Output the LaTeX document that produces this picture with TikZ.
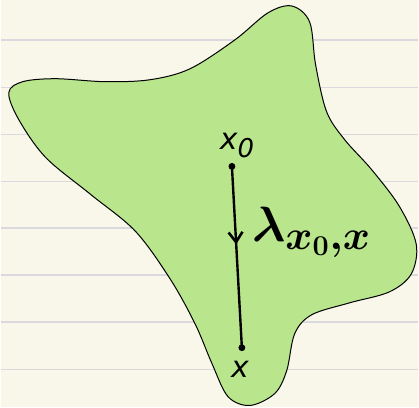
\documentclass[tikz,border=0pt]{standalone}
\usepackage{fontspec}
\newfontfamily\lblfont{DejaVu Sans}
\usetikzlibrary{arrows.meta,decorations.markings}

\definecolor{paper}{RGB}{249,246,234}
\definecolor{rule}{RGB}{218,218,222}
\definecolor{blob}{RGB}{185,230,140}

\begin{document}
\begin{tikzpicture}
[
	x=0.5pt,
	y=-0.5pt,
	closedpt/.style={circle,draw,fill,inner sep=0pt,minimum size=3pt},
	ptlabel/.style={font=\lblfont\itshape\fontsize{15}{18}\selectfont},
	midarrow/.style={postaction={decorate},decoration={markings,
		mark=at position 0.43 with {\arrow{Straight Barb[length=5pt,width=7pt,line width=1.3pt]}}}}
]

	% paper
	\fill[paper] (0,0) rectangle (419,409);
	\foreach \y in {40,88,135,182,229,276,323,371}
		\draw[rule,line width=0.8pt] (0,\y) -- (419,\y);

	% region
	\draw[fill=blob,line width=0.5pt] plot[smooth cycle,tension=0.55] coordinates {
		(8,93) (22,82) (55,79) (105,82) (150,80) (190,69) (235,40) (268,13)
		(292,6) (310,22) (316,65) (327,112) (345,140) (372,170) (400,207)
		(417,245) (412,275) (390,293) (350,304) (312,316) (295,335) (287,372)
		(275,395) (250,407) (228,398) (212,365) (195,325) (170,280) (135,232)
		(90,195) (45,158) (18,120)};

	% path
	\node[closedpt] at (232,167) (x0) {};
	\node[closedpt] at (242,349) (x) {};
	\node[ptlabel] at (237,146) (x0lbl) {x\raisebox{-0.45ex}{\fontsize{13}{15}\selectfont 0}};
	\node[ptlabel] at (240,371) (xlbl) {x};
	\draw[line width=1.2pt,midarrow] (x0.center) -- (x.center);

	\node[font=\fontsize{28}{30}\selectfont\boldmath] at (312,233) (lam) {$\lambda_{x_0,x}$};

\end{tikzpicture}
\end{document}
